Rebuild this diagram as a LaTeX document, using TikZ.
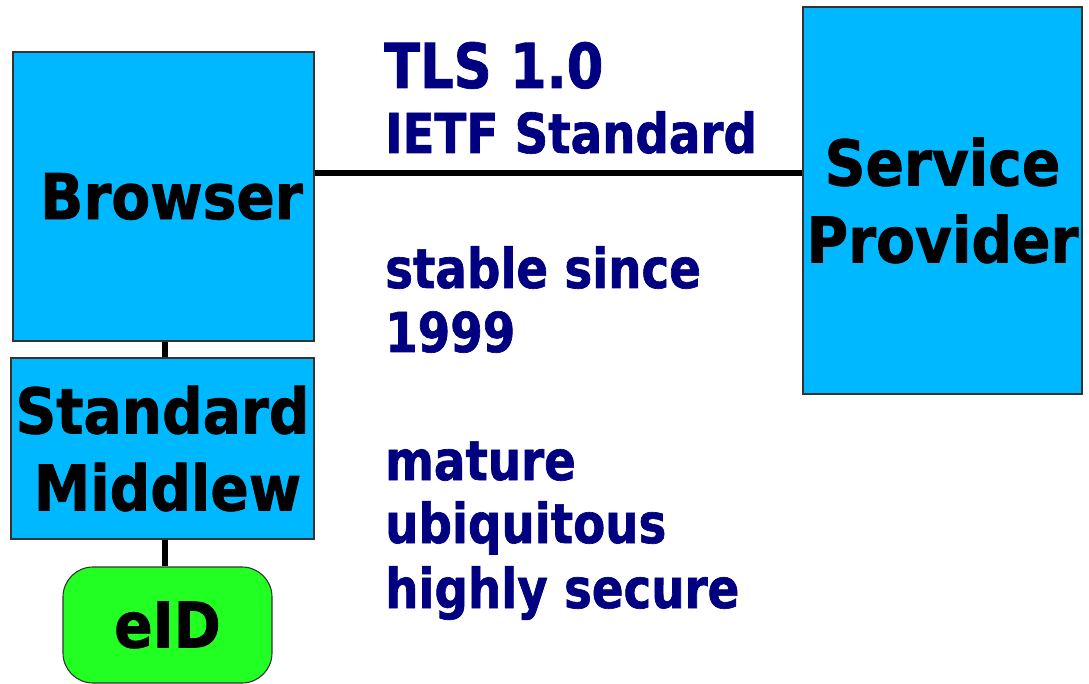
\documentclass[tikz,border=0pt]{standalone}
\usepackage{fontspec}
\newfontfamily\boxfont{DejaVu Sans}[FakeStretch=0.9,FakeBold=1.2]
\newfontfamily\notefont{DejaVu Sans}[FakeStretch=0.85,FakeBold=1.2]
\definecolor{boxblue}{HTML}{00B8FF}
\definecolor{idgreen}{HTML}{22FF22}
\definecolor{notenavy}{HTML}{000080}
\definecolor{edgegray}{HTML}{333333}
\begin{document}
\begin{tikzpicture}[x=1pt,y=-1pt,
  block/.style={draw=edgegray,line width=1.1pt,fill=boxblue,inner sep=0pt,
    align=center,font=\boxfont\bfseries\fontsize{63}{77}\selectfont},
  token/.style={draw=edgegray,line width=1.1pt,fill=idgreen,rounded corners=30pt,
    inner sep=0pt,align=center,font=\boxfont\bfseries\fontsize{63}{77}\selectfont},
  link/.style={line width=6.5pt,black},
  note/.style={anchor=base west,inner sep=0pt,text=notenavy,
    font=\notefont\bfseries\fontsize{55}{64}\selectfont},
  bignote/.style={note,font=\notefont\bfseries\fontsize{62}{70}\selectfont}]
\useasboundingbox (0,0) rectangle (1089,684);

% boxes
\node[block,minimum width=301pt,minimum height=289pt] (browser) at (163.5,196.5) {\hspace*{16pt}Browser};
\node[block,minimum width=303pt,minimum height=181pt] (mw) at (162.5,448.5) {Standard\\\hspace*{10pt}Middlew};
\node[token,minimum width=209pt,minimum height=116pt] (eid) at (167.5,625) {eID};
\node[block,minimum width=279pt,minimum height=387pt] (sp) at (942.5,200.5) {Service\\Provider};

% connectors
\coordinate (tlsy) at (0,173);
\coordinate (stemx) at (165,0);
\draw[link] (stemx |- browser.south) -- (stemx |- mw.north);
\draw[link] (stemx |- mw.south) -- (stemx |- eid.north);
\draw[link] (browser.east |- tlsy) -- (sp.west |- tlsy);

% protocol notes
\node[bignote] (tls) at (384,88) {TLS 1.0};
\node[note] (ietf) at (385,153) {IETF Standard};
\node[note] (stable) at (385,288) {stable since};
\node[note] (year) at (385,352) {1999};
\node[note] (mature) at (385,480) {mature};
\node[note] (ubiq) at (385,543) {ubiquitous};
\node[note] (secure) at (385,608) {highly secure};
\end{tikzpicture}
\end{document}
